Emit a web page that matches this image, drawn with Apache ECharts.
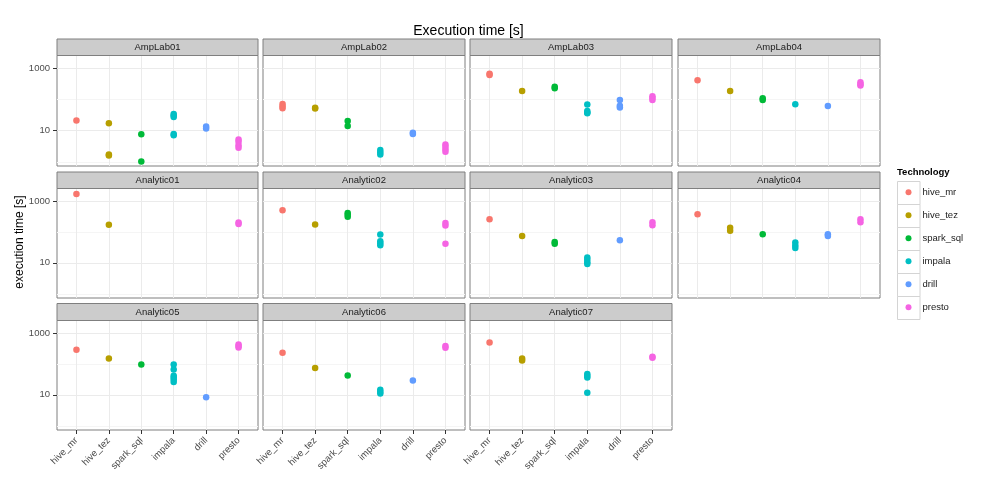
<!DOCTYPE html>
<html><head><meta charset="utf-8">
<script src="https://cdn.jsdelivr.net/npm/echarts@6/dist/echarts.min.js"></script>
<style>html,body{margin:0;padding:0;background:#fff}#c{width:1000px;height:500px}</style>
</head><body><div id="c"></div>
<script>
// ---------------- data ----------------
const technologies = ['hive_mr', 'hive_tez', 'spark_sql', 'impala', 'drill', 'presto'];
const panelNames = ['AmpLab01', 'AmpLab02', 'AmpLab03', 'AmpLab04',
  'Analytic01', 'Analytic02', 'Analytic03', 'Analytic04',
  'Analytic05', 'Analytic06', 'Analytic07'];
const yTickValues = [10, 1000];
const yMinorValues = [1, 100];

// execution times [s], one list per technology (same order as technologies)
const ampLab01 = [[21], [17, 1.7, 1.6], [7.6, 1.02], [34, 30, 27, 7.8, 7.0], [13.5, 11.5], [5.2, 4.4, 3.4, 2.8]];
const ampLab02 = [[70, 60, 52], [54, 51], [20, 14], [2.4, 2.0, 1.7], [8.5, 7.8], [3.6, 3.0, 2.5, 2.1]];
const ampLab03 = [[660, 600], [184], [250, 225], [68, 42, 38, 36], [95, 62, 55], [125, 110, 95]];
const ampLab04 = [[404], [184], [108, 95], [69], [61], [350, 300, 275]];
const analytic01 = [[1670], [170], [], [], [], [200, 178]];
const analytic02 = [[495], [173], [410, 360, 310], [82, 50, 43, 37], [], [195, 160, 41]];
const analytic03 = [[257], [74], [47, 41], [15, 12.5, 10.5, 9.2], [54], [205, 165]];
const analytic04 = [[370], [135, 108], [83], [45, 36, 30], [84, 74], [255, 205]];
const analytic05 = [[285], [150], [96], [95, 66, 41, 36, 31, 26], [8.4], [420, 375, 340]];
const analytic06 = [[229], [73], [42], [14.5, 12.5, 11], [29], [375, 330]];
const analytic07 = [[489], [150, 128], [], [47, 41, 36, 11.6], [], [170, 158]];
const panelValues = [ampLab01, ampLab02, ampLab03, ampLab04, analytic01, analytic02,
  analytic03, analytic04, analytic05, analytic06, analytic07];

// ---------------- style / layout ----------------
const colors = ['#F8766D', '#B79F00', '#00BA38', '#00BFC4', '#619CFF', '#F564E3'];
const FONT = '"Liberation Sans", Arial, Helvetica, sans-serif';
const colX = [[57, 258], [263, 465], [470, 672], [678, 880]];
const rowY = [[55.5, 166], [188.5, 298], [320.5, 430]];
const stripTop = [39, 172, 303.5];
const yMin = Math.pow(10, -0.135);
const yMax = Math.pow(10, 3.40);
const xIdx = technologies.map((_, i) => i);

const grids = [], xAxes = [], yAxes = [], series = [], graphics = [];

panelValues.forEach((vals, p) => {
  const col = p % 4, row = Math.floor(p / 4);
  const x0 = colX[col][0], x1 = colX[col][1];
  const y0 = rowY[row][0], y1 = rowY[row][1];
  const showX = row === 2;
  const showY = col === 0;
  grids.push({
    left: x0, top: y0, width: x1 - x0, height: y1 - y0,
    show: true, backgroundColor: '#ffffff', borderColor: '#7F7F7F', borderWidth: 1,
    containLabel: false, outerBoundsMode: 'none'
  });
  xAxes.push({
    type: 'value', gridIndex: p, min: -0.6, max: 5.6, position: 'bottom',
    axisLine: { show: false, onZero: false },
    axisTick: { show: showX, customValues: xIdx, length: 4, lineStyle: { color: '#333333' } },
    axisLabel: {
      show: showX, customValues: xIdx, rotate: 45, margin: 9,
      formatter: v => technologies[Math.round(v)] || '',
      fontSize: 9.5, color: '#4D4D4D', fontFamily: FONT
    },
    splitLine: { show: true, lineStyle: { color: '#EBEBEB', width: 1 } }
  });
  // main log axis (major ticks + labels)
  yAxes.push({
    type: 'log', logBase: 10, gridIndex: p, min: yMin, max: yMax, position: 'left',
    axisLine: { show: false, onZero: false },
    axisTick: { show: showY, customValues: yTickValues, length: 4, lineStyle: { color: '#333333' } },
    axisLabel: {
      show: showY, customValues: yTickValues, margin: 7,
      formatter: v => String(Math.round(v)),
      fontSize: 9.5, color: '#4D4D4D', fontFamily: FONT
    },
    splitLine: { show: true, lineStyle: { color: '#EBEBEB', width: 1 } }
  });
  // minor grid lines
  yAxes.push({
    type: 'log', logBase: 10, gridIndex: p, min: yMin, max: yMax, position: 'left',
    axisLine: { show: false, onZero: false },
    axisTick: { show: false, customValues: yMinorValues },
    axisLabel: { show: false, customValues: yMinorValues },
    splitLine: { show: true, lineStyle: { color: '#F5F5F5', width: 1 } }
  });
  vals.forEach((list, t) => {
    if (!list.length) return;
    series.push({
      type: 'scatter', name: technologies[t], xAxisIndex: p, yAxisIndex: 2 * p,
      data: list.map(v => [t, v]),
      symbol: 'circle', symbolSize: 6.5,
      itemStyle: { color: colors[t], opacity: 1 },
      emphasis: { disabled: true }, silent: true, z: 3
    });
  });
  // strip
  const sy = stripTop[row];
  graphics.push({
    type: 'rect', shape: { x: x0, y: sy, width: x1 - x0, height: y0 - sy },
    style: { fill: '#CCCCCC', stroke: '#7F7F7F', lineWidth: 1 }, z: 10
  });
  graphics.push({
    type: 'text', x: (x0 + x1) / 2, y: (sy + y0) / 2 + 0.5,
    style: { text: panelNames[p], fontSize: 9.5, fontFamily: FONT, fill: '#1A1A1A',
      textAlign: 'center', textVerticalAlign: 'middle' }, z: 11
  });
});

// titles
graphics.push({
  type: 'text', x: 468.5, y: 31,
  style: { text: 'Execution time [s]', fontSize: 14, fontFamily: FONT, fill: '#000000',
    textAlign: 'center', textVerticalAlign: 'middle' }
});
graphics.push({
  type: 'text', x: 20, y: 242, rotation: Math.PI / 2,
  style: { text: 'execution time [s]', fontSize: 12, fontFamily: FONT, fill: '#000000',
    textAlign: 'center', textVerticalAlign: 'middle' }
});
// legend title + key boxes
graphics.push({
  type: 'text', x: 897, y: 172.5,
  style: { text: 'Technology', fontSize: 9.5, fontWeight: 'bold', fontFamily: FONT, fill: '#000000',
    textAlign: 'left', textVerticalAlign: 'middle' }
});
technologies.forEach((_, i) => {
  graphics.push({
    type: 'rect', shape: { x: 897.5, y: 181.5 + 23 * i, width: 22.5, height: 23 },
    style: { fill: '#ffffff', stroke: '#D4D4D4', lineWidth: 1 }, z: -1
  });
});

const chart = echarts.init(document.getElementById('c'), null, { renderer: 'canvas' });
chart.setOption({
  animation: false,
  backgroundColor: '#ffffff',
  textStyle: { fontFamily: FONT },
  grid: grids,
  xAxis: xAxes,
  yAxis: yAxes,
  series: series,
  legend: {
    data: technologies, orient: 'vertical', left: 905.5, top: 187.3, padding: 0,
    itemWidth: 6, itemHeight: 6, itemGap: 13, icon: 'circle',
    selectedMode: false,
    textStyle: { fontSize: 9.5, color: '#1A1A1A', fontFamily: FONT, padding: [0, 0, 0, 6] }
  },
  graphic: { elements: graphics }
});
</script></body></html>
